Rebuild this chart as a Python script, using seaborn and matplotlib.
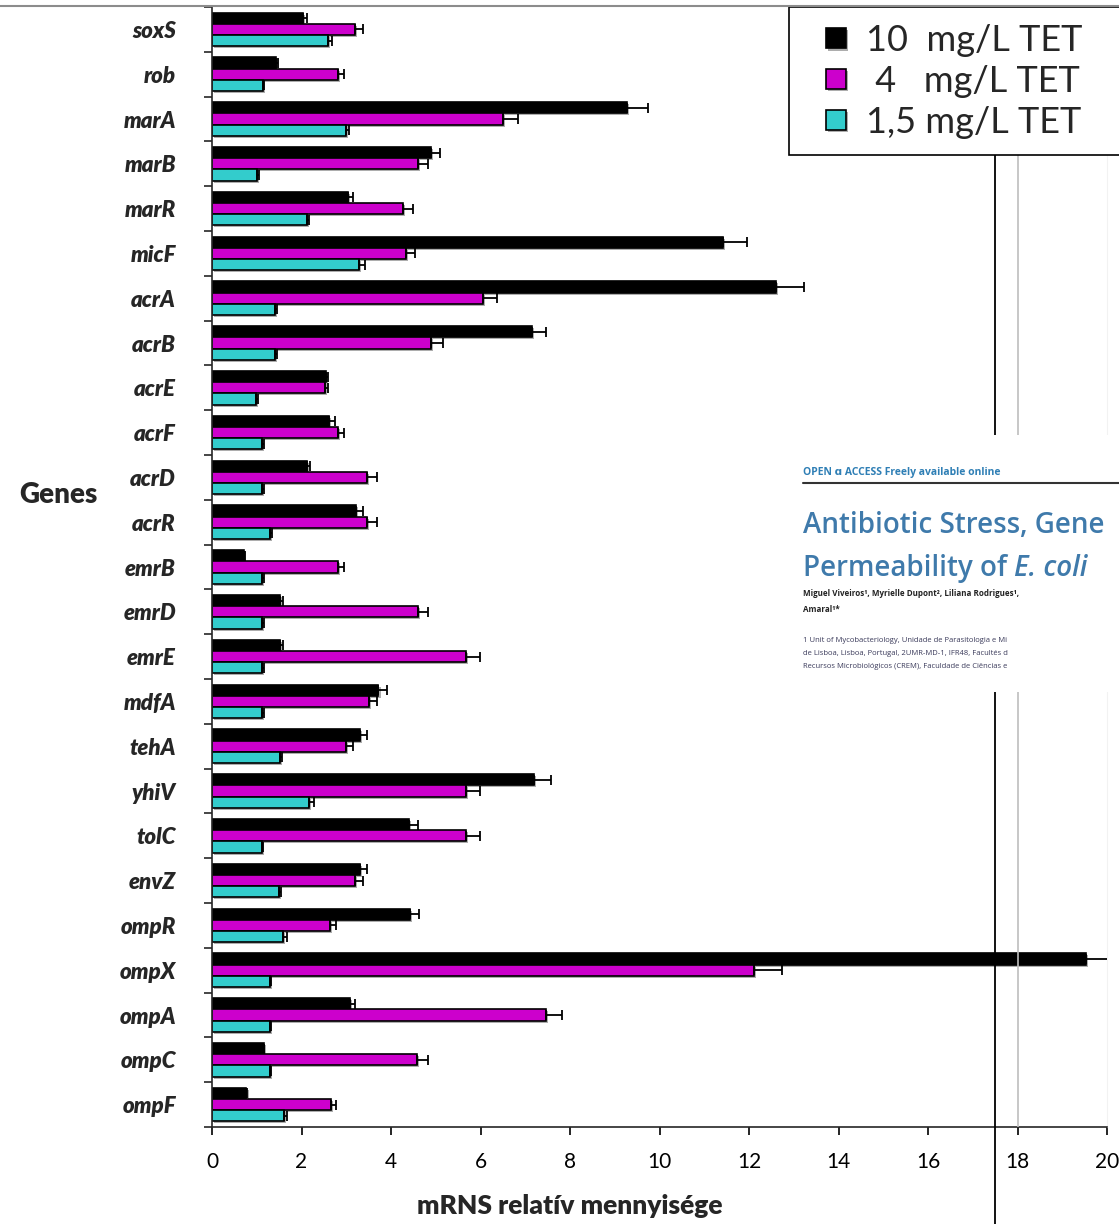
import numpy as np
import pandas as pd
import matplotlib
matplotlib.use("Agg")
import matplotlib.pyplot as plt
import matplotlib.patheffects as pe
from matplotlib.patches import Rectangle
from matplotlib.lines import Line2D
import seaborn as sns

genes = ["soxS", "rob", "marA", "marB", "marR", "micF", "acrA", "acrB", "acrE", "acrF",
         "acrD", "acrR", "emrB", "emrD", "emrE", "mdfA", "tehA", "yhiV", "tolC", "envZ",
         "ompR", "ompX", "ompA", "ompC", "ompF"]
series = ["10  mg/L TET", " 4   mg/L TET", "1,5 mg/L TET"]
tet10 = [2.04, 1.44, 9.27, 4.89, 3.04, 11.42, 12.61, 7.15, 2.54, 2.62,
         2.12, 3.21, 0.72, 1.52, 1.52, 3.72, 3.30, 7.20, 4.41, 3.31,
         4.42, 19.52, 3.08, 1.16, 0.77]
tet10_err = [0.09, 0.03, 0.47, 0.20, 0.11, 0.53, 0.62, 0.32, 0.06, 0.13,
             0.06, 0.17, 0.01, 0.06, 0.06, 0.18, 0.17, 0.37, 0.20, 0.16,
             0.20, 0.56, 0.11, 0.01, 0.01]
tet4 = [3.20, 2.81, 6.50, 4.61, 4.27, 4.33, 6.06, 4.90, 2.52, 2.81,
        3.47, 3.47, 2.82, 4.61, 5.68, 3.50, 2.99, 5.68, 5.68, 3.20,
        2.64, 12.12, 7.46, 4.59, 2.65]
tet4_err = [0.18, 0.15, 0.34, 0.21, 0.22, 0.20, 0.30, 0.26, 0.07, 0.15,
            0.21, 0.21, 0.14, 0.22, 0.31, 0.18, 0.17, 0.31, 0.30, 0.18,
            0.13, 0.61, 0.37, 0.24, 0.12]
tet15 = [2.60, 1.13, 3.00, 1.00, 2.12, 3.29, 1.41, 1.41, 0.99, 1.12,
         1.12, 1.30, 1.12, 1.12, 1.12, 1.12, 1.52, 2.17, 1.12, 1.50,
         1.58, 1.29, 1.29, 1.29, 1.60]
tet15_err = [0.08, 0.04, 0.07, 0.04, 0.05, 0.13, 0.04, 0.04, 0.04, 0.04,
             0.04, 0.04, 0.04, 0.04, 0.04, 0.04, 0.04, 0.11, 0.03, 0.04,
             0.09, 0.02, 0.02, 0.02, 0.08]
xticks = [0, 2, 4, 6, 8, 10, 12, 14, 16, 18, 20]
colors = ["#000000", "#cc00cc", "#33cccc"]

sns.set_style("ticks")
plt.rcParams["font.family"] = ["Lato", "DejaVu Sans"]

df = pd.DataFrame({
    "gene": genes * 3,
    "value": tet10 + tet4 + tet15,
    "series": [series[0]] * len(genes) + [series[1]] * len(genes) + [series[2]] * len(genes),
})
errs = [tet10_err, tet4_err, tet15_err]

W, H = 1119, 1224
fig = plt.figure(figsize=(W / 100, H / 100), dpi=100)
ax = fig.add_axes([212 / W, 1 - 1127 / H, 895 / W, 1120 / H])

sns.barplot(data=df, y="gene", x="value", hue="series", orient="h", palette=colors,
            hue_order=series, order=genes, width=0.75, edgecolor="black", linewidth=1.2,
            errorbar=None, ax=ax, saturation=1)

for p in ax.patches:
    p.set_path_effects([pe.SimplePatchShadow(offset=(1.5, -1.5), shadow_rgbFace="#8a8a8a", alpha=0.7),
                        pe.Normal()])

for cont, err in zip(ax.containers, errs):
    xs = [b.get_width() for b in cont]
    ys = [b.get_y() + b.get_height() / 2 for b in cont]
    ax.errorbar(xs, ys, xerr=[np.zeros(len(err)), err], fmt="none", ecolor="black",
                elinewidth=1.3, capsize=3.8, capthick=1.3, zorder=3)

handles, labels = ax.get_legend_handles_labels()
ax.legend().remove()

ax.set_xlim(0, 20)
ax.set_ylim(len(genes) - 0.5, -0.5)
ax.set_xticks(xticks)
ax.set_xticklabels([str(t) for t in xticks], fontsize=15)
ax.tick_params(axis="x", length=6, width=1.2, pad=12, colors="black")
ax.set_yticks(np.arange(-0.5, len(genes)), minor=True)
ax.tick_params(axis="y", which="major", length=0, pad=26)
ax.tick_params(axis="y", which="minor", length=6, width=1.2)
for lab in ax.get_yticklabels():
    lab.set_fontsize(16)
    lab.set_fontweight("heavy")
    lab.set_fontstyle("italic")
ax.set_ylabel("")
ax.set_xlabel("mRNS relatív mennyisége", fontsize=19, fontweight="heavy", va="center")
ax.xaxis.set_label_coords((570 - 212) / 895, (1127 - 1206) / 1120)
ax.spines["top"].set_visible(False)
ax.spines["right"].set_color("#f2f2f2")
ax.spines["left"].set_linewidth(1.2)
ax.spines["bottom"].set_linewidth(1.2)

# stray vertical lines from the pasted picture
ax.axvline(17.5, ymin=-0.1, ymax=1, clip_on=False, color="black", lw=1.3, zorder=4)
ax.axvline(18, ymin=0, ymax=1, color="#bdbdbd", lw=1.2, zorder=4)

fig.text(58 / W, 1 - 495 / H, "Genes", fontsize=20, fontweight="heavy", ha="center", va="center")

fig.add_artist(Line2D([0, 1], [1 - 6 / H, 1 - 6 / H], transform=fig.transFigure,
                      color="#8c8c8c", lw=1.5, zorder=6))
fig.add_artist(Rectangle((789 / W, 1 - 155 / H), 0.3, 148 / H, transform=fig.transFigure,
                         facecolor="white", edgecolor="black", lw=1.2, zorder=4))
fig.legend(handles, labels, loc="upper left", bbox_to_anchor=(826 / W, 1 - 24 / H),
           frameon=False, fontsize=26, handlelength=0.55, handleheight=0.5,
           handletextpad=0.55, labelspacing=0.22, borderpad=0, borderaxespad=0)

# pasted article header
ins = fig.add_axes([790 / W, 1 - 692 / H, 329 / W, 257 / H], zorder=3)
ins.set_facecolor("white")
ins.set_xlim(0, 329)
ins.set_ylim(257, 0)
ins.set_xticks([])
ins.set_yticks([])
for s in ins.spines.values():
    s.set_visible(False)
fam = ["Open Sans", "DejaVu Sans"]
ins.text(13, 38, "OPEN \u0251 ACCESS Freely available online", fontsize=7.5, fontweight="bold",
         color="#2f7fb5", va="center", family=fam)
ins.plot([13, 329], [48, 48], color="#333333", lw=1.5)
blue = "#3f7aab"
ins.text(13, 98, "Antibiotic Stress, Gene", fontsize=20, color=blue,
         fontweight="semibold", va="baseline", family=fam)
t1 = ins.text(13, 141, "Permeability of ", fontsize=20, color=blue, fontweight="semibold",
              va="baseline", family=fam)
ins.annotate("E. coli", xy=(1, 0), xycoords=t1, va="bottom", fontsize=20, color=blue,
             fontweight="semibold", fontstyle="italic", family=fam)
ins.text(13, 161, "Miguel Viveiros\u00b9, Myrielle Dupont\u00b2, Liliana Rodrigues\u00b9,",
         fontsize=5.8, fontweight="bold", color="#222222", va="baseline", family=fam)
ins.text(13, 177, "Amaral\u00b9*", fontsize=5.8, fontweight="bold", color="#222222", va="baseline",
         family=fam)
aff = ["1 Unit of Mycobacteriology, Unidade de Parasitologia e Mi",
       "de Lisboa, Lisboa, Portugal, 2UMR-MD-1, IFR48, Facultés d",
       "Recursos Microbiológicos (CREM), Faculdade de Ciências e"]
for i, line in enumerate(aff):
    ins.text(13, 207 + 13 * i, line, fontsize=5.5, color="#3a3a5a", va="baseline", family=fam)

fig.savefig("out.png", dpi=100)
